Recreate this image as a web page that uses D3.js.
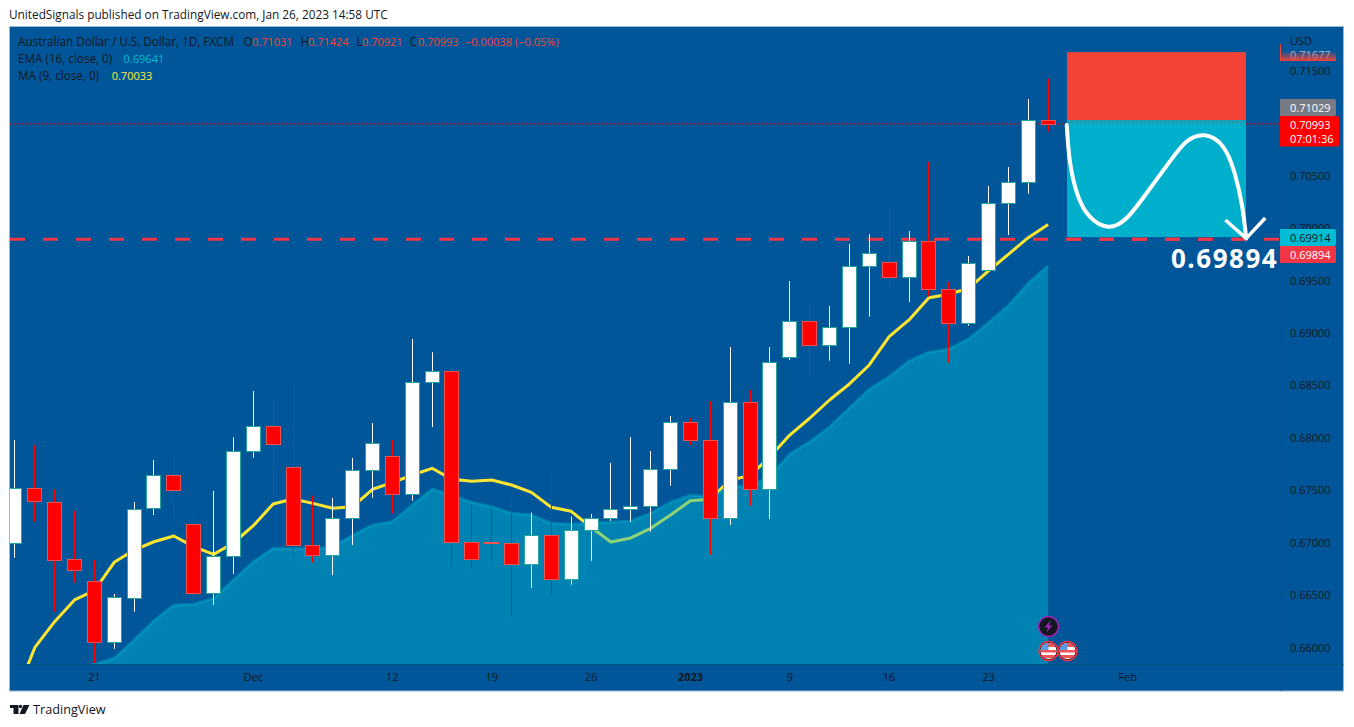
<!DOCTYPE html>
<html><head><meta charset="utf-8">
<script src="https://cdnjs.cloudflare.com/ajax/libs/d3/7.8.5/d3.min.js"></script>
<style>
html,body{margin:0;padding:0;background:#fff}
svg{display:block}
text{font-family:"Open Sans",sans-serif}
</style></head><body>
<svg id="c" width="1354" height="727"></svg>
<script>
// Series: one entry per trading day, Nov 15 2022 → Jan 26 2023
const opens=[.66995,.67519,.67392,.66843,.66633,.66052,.66480,.67329,.67643,.67176,.66519,.66871,.67872,.68110,.67720,.66976,.66881,.67234,.67691,.67824,.67462,.68530,.68635,.67005,.67005,.66995,.66795,.67071,.66652,.67119,.67234,.67319,.67348,.67701,.68149,.67977,.67234,.68339,.67510,.68768,.69111,.68879,.69054,.69632,.69674,.69531,.69874,.69416,.69092,.69597,.70236,.70436,.71031];
const highs=[.67980,.67932,.67510,.67303,.66836,.66512,.67389,.67789,.67808,.67281,.67494,.68006,.68447,.68361,.68514,.67449,.67427,.67808,.68142,.67980,.68943,.68816,.68695,.67360,.67335,.67446,.67287,.67675,.67249,.67275,.67761,.68008,.67875,.68209,.68190,.68352,.68866,.68456,.68866,.69495,.69279,.69257,.69848,.69943,.70188,.69972,.70630,.69486,.69734,.70401,.70582,.71230,.71424];
const lows=[.66858,.67201,.66343,.66620,.65854,.65988,.66343,.67265,.67208,.66429,.66407,.66703,.67811,.67430,.66877,.66810,.66693,.66979,.67430,.67281,.67401,.68104,.66772,.66753,.66829,.66296,.66572,.66505,.66601,.66829,.67208,.67201,.67106,.67544,.67932,.66884,.67170,.67354,.67227,.68742,.68599,.68736,.68707,.69155,.69410,.69295,.69346,.68717,.69069,.69597,.69934,.70328,.70921];
const closes=[.67519,.67392,.66843,.66738,.66052,.66480,.67325,.67643,.67500,.66519,.66871,.67872,.68110,.67935,.66976,.66881,.67234,.67691,.67948,.67462,.68530,.68635,.67005,.66843,.66995,.66795,.67071,.66652,.67119,.67234,.67319,.67348,.67701,.68149,.67977,.67234,.68339,.67510,.68720,.69111,.68879,.69054,.69636,.69759,.69531,.69874,.69416,.69092,.69664,.70236,.70436,.71031,.70993];
const ma9=[.65521,.66000,.66248,.66455,.66543,.66814,.66931,.67010,.67065,.66963,.66890,.66998,.67163,.67370,.67417,.67376,.67329,.67344,.67510,.67573,.67646,.67710,.67605,.67586,.67599,.67551,.67481,.67338,.67300,.67148,.67008,.67046,.67138,.67265,.67401,.67415,.67599,.67640,.67821,.68027,.68187,.68361,.68514,.68695,.68965,.69124,.69336,.69369,.69426,.69591,.69750,.69908,.70033];
const ema16=[.65597,.65673,.65740,.65797,.65840,.65899,.66073,.66257,.66407,.66414,.66471,.66645,.66820,.66948,.66944,.66944,.66963,.67071,.67170,.67201,.67360,.67513,.67449,.67386,.67344,.67281,.67265,.67186,.67176,.67186,.67198,.67208,.67281,.67386,.67456,.67439,.67535,.67541,.67630,.67846,.67964,.68104,.68285,.68463,.68583,.68733,.68816,.68847,.68943,.69098,.69260,.69474,.69641];
// Axis ticks
const priceTicks=[.715,.705,.700,.695,.690,.685,.680,.675,.670,.665,.660];
const timeTickIdx=[4,12,19,24,29,34,39,44,49,56];
const timeTickLab=["21","Dec","12","19","26","2023","9","16","23","Feb"];
// Trade tool + levels
const stopPrice=.71677, entryPrice=.71029, targetPrice=.69914, linePrice=.69894, lastPrice=.70993;
const toolStartIdx=52.95, toolEndIdx=61.96;
// Hand-drawn arrow, [bar index, price]
const arrowCurve=[[52.94,.70982],[53.09,.70649],[53.46,.70331],[54.10,.70108],[55.02,.70013],[55.94,.70093],[56.95,.70331],[58.12,.70633],[58.96,.70823],[59.88,.70884],[60.80,.70776],[61.39,.70522],[61.77,.70204],[61.97,.69902]];
const arrowHead=[[60.92,.70077],[61.97,.69902],[62.93,.70096]];

const BG="#015699",DARK="#131722";
const svg=d3.select("#c");
const x=d3.scaleLinear().domain([0,52]).range([14.85,1048.09]);
const y=d3.scaleLinear().domain([.715,.660]).range([70.7,647.7]);
const col=i=>Math.floor(x(i));
const paneL=10,paneR=1281,paneT=27,paneB=664,outR=1343.5,outB=691;

svg.append("text").attr("x",9).attr("y",19).attr("font-size",11.8).attr("fill",DARK)
  .text("UnitedSignals published on TradingView.com, Jan 26, 2023 14:58 UTC");
svg.append("rect").attr("x",paneL-.5).attr("y",paneT-.5).attr("width",outR-paneL+.5).attr("height",outB-paneT+.5)
  .attr("fill",BG).attr("stroke","#9db8d4").attr("stroke-width",1);
svg.append("line").attr("x1",paneL).attr("x2",outR).attr("y1",paneB+.5).attr("y2",paneB+.5).attr("stroke","#02508c");
svg.append("line").attr("x1",paneR+.5).attr("x2",paneR+.5).attr("y1",paneT).attr("y2",outB).attr("stroke","#02508c");

const defs=svg.append("defs");
defs.append("clipPath").attr("id","pane").append("rect").attr("x",paneL).attr("y",paneT).attr("width",paneR-paneL).attr("height",paneB-paneT);
const gr=defs.append("linearGradient").attr("id","fade").attr("x1",0).attr("x2",0).attr("y1",0).attr("y2",1);
gr.append("stop").attr("offset",0).attr("stop-color","#f44336").attr("stop-opacity",0);
gr.append("stop").attr("offset",1).attr("stop-color","#f44336").attr("stop-opacity",1);

const g=svg.append("g").attr("clip-path","url(#pane)");
const idx=d3.range(opens.length);

// MA under the EMA area
g.append("path").attr("fill","none").attr("stroke","#ffe52f").attr("stroke-width",3).attr("stroke-linejoin","round")
  .attr("d",d3.line().x(i=>x(i)).y(i=>y(ma9[i]))(idx));
g.append("path").attr("fill","#00bcd4").attr("fill-opacity",.44).attr("stroke","none")
  .attr("d",d3.area().x(i=>x(i)).y0(paneB).y1(i=>y(ema16[i]))(idx));
g.append("path").attr("fill","none").attr("stroke","#00bcd4").attr("stroke-opacity",.35).attr("stroke-width",3)
  .attr("d",d3.line().x(i=>x(i)).y(i=>y(ema16[i]))(idx));

// Levels
g.append("line").attr("x1",paneL).attr("x2",paneR).attr("y1",y(lastPrice)).attr("y2",y(lastPrice))
  .attr("stroke","#ff0000").attr("stroke-dasharray","1 3");
g.append("line").attr("x1",paneL).attr("x2",paneR).attr("y1",y(linePrice)).attr("y2",y(linePrice))
  .attr("stroke","#f23645").attr("stroke-width",3).attr("stroke-dasharray","15 18");

// Candles
const up=i=>closes[i]>=opens[i];
const bars=g.selectAll("g.bar").data(idx).join("g");
bars.append("line").attr("x1",i=>col(i)+.5).attr("x2",i=>col(i)+.5)
  .attr("y1",i=>y(highs[i])).attr("y2",i=>y(lows[i]))
  .attr("stroke",i=>up(i)?"#fff":"#ff0000");
bars.append("rect").attr("x",i=>col(i)-6.5).attr("width",14)
  .attr("y",i=>Math.round(y(Math.max(opens[i],closes[i])))+.5)
  .attr("height",i=>Math.max(1,Math.round(Math.abs(y(opens[i])-y(closes[i])))))
  .attr("fill",i=>up(i)?"#fff":"#ff0000")
  .attr("stroke",i=>up(i)?"#26a69a":"#ef5350");

// Short position tool
const tx0=x(toolStartIdx),tx1=x(toolEndIdx);
g.append("rect").attr("x",tx0).attr("width",tx1-tx0).attr("y",y(stopPrice)).attr("height",y(entryPrice)-y(stopPrice)).attr("fill","#f44336");
g.append("rect").attr("x",tx0).attr("width",tx1-tx0).attr("y",y(entryPrice)).attr("height",y(targetPrice)-y(entryPrice)).attr("fill","#00afcc");
g.append("rect").attr("x",tx0).attr("width",tx1-tx0).attr("y",y(entryPrice)).attr("height",y(lastPrice)-y(entryPrice)).attr("fill","#1a9fb4");
g.append("line").attr("x1",tx0).attr("x2",tx1).attr("y1",y(lastPrice)).attr("y2",y(lastPrice))
  .attr("stroke","#ff6a5a").attr("stroke-dasharray","1 3");
g.append("line").attr("x1",tx0).attr("x2",tx1).attr("y1",y(linePrice)).attr("y2",y(linePrice))
  .attr("stroke","#f23645").attr("stroke-width",3).attr("stroke-dasharray","15 18").attr("stroke-dashoffset",(tx0-paneL)%33);
g.append("path").attr("fill","none").attr("stroke","#fff").attr("stroke-width",4).attr("stroke-linecap","round")
  .attr("d",d3.line().x(d=>x(d[0])).y(d=>y(d[1])).curve(d3.curveNatural)(arrowCurve));
g.append("path").attr("fill","none").attr("stroke","#fff").attr("stroke-width",3.5).attr("d",d3.line().x(d=>x(d[0])).y(d=>y(d[1]))(arrowHead));
svg.append("text").attr("x",1171).attr("y",y(linePrice)+29).attr("font-size",26).attr("font-weight",700).attr("letter-spacing",1.5).attr("fill","#fff").text(d3.format(".5f")(linePrice));

// Price axis
const ay=svg.append("g").attr("transform",`translate(${paneR},0)`)
  .call(d3.axisRight(y).tickValues(priceTicks).tickFormat(d3.format(".5f")).tickSize(0).tickPadding(9));
ay.select(".domain").remove();
ay.selectAll("text").attr("fill",DARK).attr("font-size",11).attr("font-family",'"Open Sans",sans-serif');
svg.append("text").attr("x",1290).attr("y",45).attr("font-size",11).attr("fill",DARK).text("USD");
svg.append("text").attr("x",1290).attr("y",58.5).attr("font-size",11).attr("fill","#a9bdd2").text(d3.format(".5f")(stopPrice));
svg.append("rect").attr("x",1280).attr("y",51).attr("width",56).attr("height",10).attr("fill","url(#fade)");
svg.append("rect").attr("x",1280).attr("y",44).attr("width",1).attr("height",17).attr("fill","#f44336");

function label(yTop,h,w,fill,lines,color){
  svg.append("path").attr("fill",fill)
    .attr("d",`M1280,${yTop}H${1280+w-2}q2,0 2,2V${yTop+h-2}q0,2 -2,2H1280Z`);
  lines.forEach((t,k)=>svg.append("text").attr("x",1290).attr("y",yTop+12.5+k*14).attr("font-size",11).attr("fill",color).text(t));
}
const f5=d3.format(".5f");
label(99,17,56,"#787b86",[f5(entryPrice)],"#fff");
label(116,30.5,59,"#ff0000",[f5(lastPrice),"07:01:36"],"#fff");
label(229,17,56,"#00bcd4",[f5(targetPrice)],DARK);
label(246,17,56,"#f23645",[f5(linePrice)],"#fff");

// Time axis
const ax=svg.append("g").attr("transform",`translate(-0.5,${paneB})`)
  .call(d3.axisBottom(x).tickValues(timeTickIdx).tickFormat((d,k)=>timeTickLab[k]).tickSize(0).tickPadding(9));
ax.select(".domain").remove();
ax.selectAll("text").attr("fill",DARK).attr("font-size",11).attr("font-family",'"Open Sans",sans-serif')
  .attr("font-weight",(d,k)=>timeTickLab[k]==="2023"?700:400);

// Legend
const lg=svg.append("g").attr("font-size",11);
function legend(yy,parts){
  const t=lg.append("text").attr("y",yy);
  parts.forEach(p=>t.append("tspan").attr("x",p[2]).attr("fill",p[1]).attr("font-size",p[1]===DARK?11.7:11).text(p[0]));
}
const R="#f44336";
legend(46,[["Australian Dollar / U.S. Dollar, 1D, FXCM",DARK,18],["O",DARK,243.5],["0.71031",R,252],["H",DARK,300.5],["0.71424",R,308],["L",DARK,356.5],["0.70921",R,362],["C",DARK,409.5],["0.70993",R,418],["−0.00038",R,465],["(−0.05%)",R,515]]);
legend(63,[["EMA (16, close, 0)",DARK,18],["0.69641","#00bcd4",123.6]]);
legend(80,[["MA (9, close, 0)",DARK,18],["0.70033","#ffeb3b",111.7]]);

// Event markers on the last bar
const mk=svg.append("g");
const mx=col(52)+.5,mx2=mx+19;
mk.append("circle").attr("cx",mx).attr("cy",626.5).attr("r",10).attr("fill","#131722").attr("stroke","#9c27b0").attr("stroke-width",1.5);
mk.append("path").attr("fill","#9c27b0").attr("transform",`translate(${mx},626.5)`).attr("d","M2,-6L-4,1H-.5L-2,6L4,-1H.5Z");
[mx,mx2].forEach((cx,k)=>{
  const cid="flag"+k;
  defs.append("clipPath").attr("id",cid).append("circle").attr("cx",cx).attr("cy",651).attr("r",8);
  mk.append("circle").attr("cx",cx).attr("cy",651).attr("r",9.5).attr("fill","#131722").attr("stroke","#f23645").attr("stroke-width",1.5);
  const f=mk.append("g").attr("clip-path",`url(#${cid})`);
  f.append("rect").attr("x",cx-9).attr("y",642).attr("width",18).attr("height",18).attr("fill","#fff");
  f.append("rect").attr("x",cx-9).attr("y",642).attr("width",18).attr("height",5).attr("fill","#f0555a");
  f.append("rect").attr("x",cx-9).attr("y",650).attr("width",18).attr("height",2.5).attr("fill","#f0555a");
  f.append("rect").attr("x",cx-9).attr("y",655).attr("width",18).attr("height",3).attr("fill","#f0555a");
  f.append("rect").attr("x",cx-9).attr("y",642).attr("width",9).attr("height",8).attr("fill","#5b9be6");
});

// Footer logo
const lf=svg.append("g").attr("fill",DARK);
lf.append("path").attr("d","M10,705H18.5V714H13.5V708H10Z");
lf.append("circle").attr("cx",20.5).attr("cy",706.5).attr("r",1.7);
lf.append("path").attr("d","M23.5,705H29.5L25,714H19.5Z");
svg.append("text").attr("x",33).attr("y",714).attr("font-size",12.7).attr("fill",DARK).text("TradingView");
</script>
</body></html>
